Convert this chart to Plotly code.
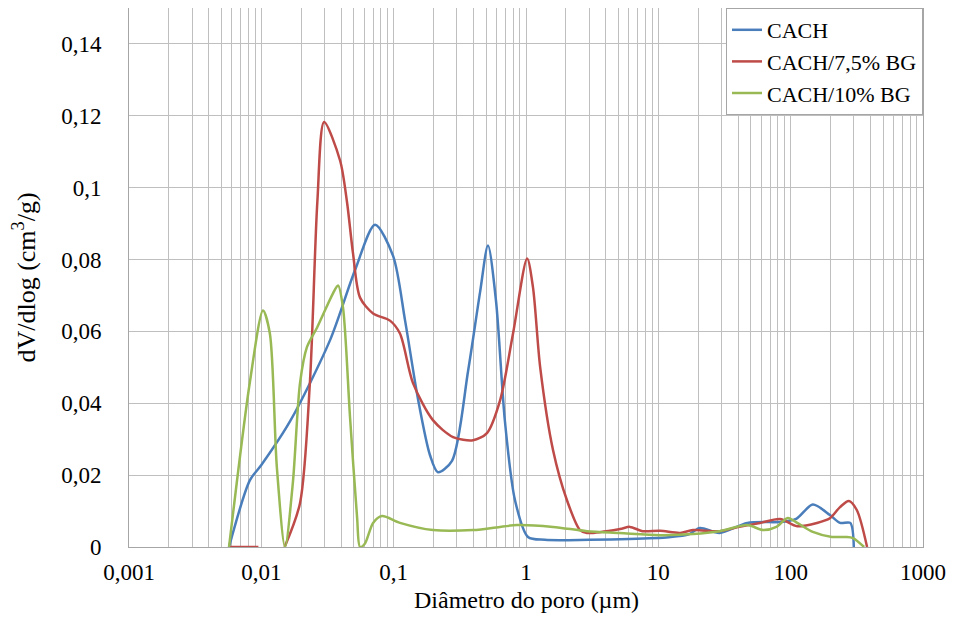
import plotly.graph_objects as go

# ---- data ----
cach_x = [0.0057, 0.0082, 0.010, 0.0165, 0.033, 0.051, 0.0723, 0.099, 0.122, 0.153, 0.188,
          0.216, 0.276, 0.365, 0.45, 0.516, 0.593, 0.693, 0.826, 1.035, 1.39, 3.0, 6.0,
          12.0, 17.0, 20.6, 29.0, 47.0, 87.0, 110.0, 147.0, 198.0, 236.0, 282.0, 300.0]
cach_y = [0.0, 0.0186, 0.0228, 0.035, 0.0575, 0.077, 0.0897, 0.081, 0.063, 0.041, 0.0256,
          0.0208, 0.024, 0.049, 0.071, 0.0839, 0.0686, 0.035, 0.013, 0.0028, 0.002, 0.002, 0.0022,
          0.0027, 0.0035, 0.0053, 0.0039, 0.0067, 0.0070, 0.0078, 0.0118, 0.0089, 0.0067, 0.0067, 0.0]

bg75_x = [0.0057, 0.0095, None, 0.0150, 0.0196, 0.0233, 0.0265, 0.0298, 0.0394, 0.0444, 0.0493,
          0.0557, 0.0699, 0.0938, 0.1116, 0.140, 0.198, 0.281, 0.398, 0.507, 0.637, 0.798,
          1.02, 1.13, 1.28, 1.6, 2.04, 2.56, 2.89, 5.13, 6.1, 7.6, 10.3, 14.6, 18.3, 29.0,
          41.0, 58.6, 83.0, 112.0, 158.0, 198.0, 236.0, 275.0, 316.0, 378.0]
bg75_y = [0.0, 0.0, None, 0.0, 0.0122, 0.046, 0.096, 0.1183, 0.1075, 0.096, 0.0817,
          0.0694, 0.065, 0.063, 0.0594, 0.0456, 0.0353, 0.0306, 0.0297, 0.0317, 0.0408, 0.0594,
          0.0803, 0.0722, 0.050, 0.027, 0.013, 0.0047, 0.0039, 0.0050, 0.0056, 0.0044, 0.0045, 0.0039, 0.0047, 0.0044,
          0.0056, 0.0067, 0.0078, 0.0058, 0.0067, 0.0080, 0.0111, 0.0128, 0.0103, 0.0]

bg10_x = [0.0057, 0.0082, 0.0103, 0.0116, 0.0131, 0.0151, 0.0173, 0.0196, 0.0221, 0.0264,
          0.0348, 0.038, 0.0414, 0.0468, 0.0529, 0.0557, 0.0607, 0.0699, 0.0816, 0.1116,
          0.198, 0.398, 0.855, 1.6, 2.89, 5.1, 10.3, 18.3, 29.0, 47.0, 62.0, 78.0, 95.0,
          112.0, 147.0, 205.0, 260.0, 296.0, 359.0]
bg10_y = [0.0, 0.046, 0.0658, 0.0594, 0.0222, 0.0, 0.0178, 0.0456, 0.0556, 0.0611,
          0.0706, 0.0728, 0.0667, 0.0361, 0.0083, 0.0, 0.001, 0.0067, 0.0086, 0.0067,
          0.0047, 0.0047, 0.0061, 0.0056, 0.0044, 0.0039, 0.0033, 0.0036, 0.0044, 0.0061, 0.0047, 0.0056, 0.0081,
          0.0067, 0.0042, 0.0028, 0.0028, 0.0025, 0.0]

series_names = ["CACH", "CACH/7,5% BG", "CACH/10% BG"]
series_colors = ["#4A7EBB", "#BE4B48", "#98B954"]

x_tickvals = [0.001, 0.01, 0.1, 1, 10, 100, 1000]
x_ticktext = ["0,001", "0,01", "0,1", "1", "10", "100", "1000"]
y_tickvals = [0, 0.02, 0.04, 0.06, 0.08, 0.1, 0.12, 0.14]
y_ticktext = ["0", "0,02", "0,04", "0,06", "0,08", "0,1", "0,12", "0,14"]
x_title = "Diâmetro do poro (µm)"
y_title = "dV/dlog (cm<sup>3</sup>/g)"

minor_vals = [m * 10 ** e for e in range(-3, 3) for m in range(2, 10)] + x_tickvals[1:-1]

FONT = "Liberation Serif"
GRID = "#BFBFBF"

fig = go.Figure()
for i, (xs, ys) in enumerate([(cach_x, cach_y), (bg75_x, bg75_y), (bg10_x, bg10_y)]):
    fig.add_trace(go.Scatter(
        x=xs, y=ys, mode="lines", name=series_names[i],
        line=dict(color=series_colors[i], width=2.5, shape="spline", smoothing=0.8),
        legendgroup=f"g{i}",
    ))

# x-axis title placed as an annotation for precise vertical position
fig.add_annotation(
    text=x_title, xref="paper", yref="paper", x=0.5, y=0,
    xanchor="center", yanchor="middle", yshift=-53, showarrow=False,
    font=dict(family=FONT, size=24, color="#000000"),
)

fig.update_layout(
    width=955, height=620,
    margin=dict(l=121, r=40, t=0, b=81),
    paper_bgcolor="white", plot_bgcolor="white",
    font=dict(family=FONT, size=22, color="#000000"),
    showlegend=True,
    legend=dict(
        x=1, xanchor="right", y=1, yanchor="top",
        bgcolor="white", bordercolor="#A6A6A6", borderwidth=1,
        font=dict(family=FONT, size=22, color="#000000"),
        itemwidth=30, tracegroupgap=0,
    ),
    xaxis=dict(
        type="log", range=[-3, 3],
        tickvals=x_tickvals, ticktext=x_ticktext,
        showgrid=False, zeroline=False,
        ticks="outside", ticklen=4, tickcolor="rgba(0,0,0,0)",
        showline=True, linecolor="#A6A6A6", linewidth=1, mirror=True,
        tickfont=dict(family=FONT, size=23),
        minor=dict(tickvals=minor_vals, showgrid=True, gridcolor=GRID, gridwidth=1, ticks=""),
    ),
    yaxis=dict(
        range=[0, 0.15],
        tickvals=y_tickvals, ticktext=y_ticktext,
        showgrid=True, gridcolor=GRID, gridwidth=1, zeroline=False,
        showline=True, linecolor="#A6A6A6", linewidth=1, mirror=True,
        ticks="outside", ticklen=22, tickcolor="rgba(0,0,0,0)",
        tickfont=dict(family=FONT, size=23),
        title=dict(text=y_title, font=dict(family=FONT, size=26), standoff=22),
    ),
)

fig.write_html("out.html")
